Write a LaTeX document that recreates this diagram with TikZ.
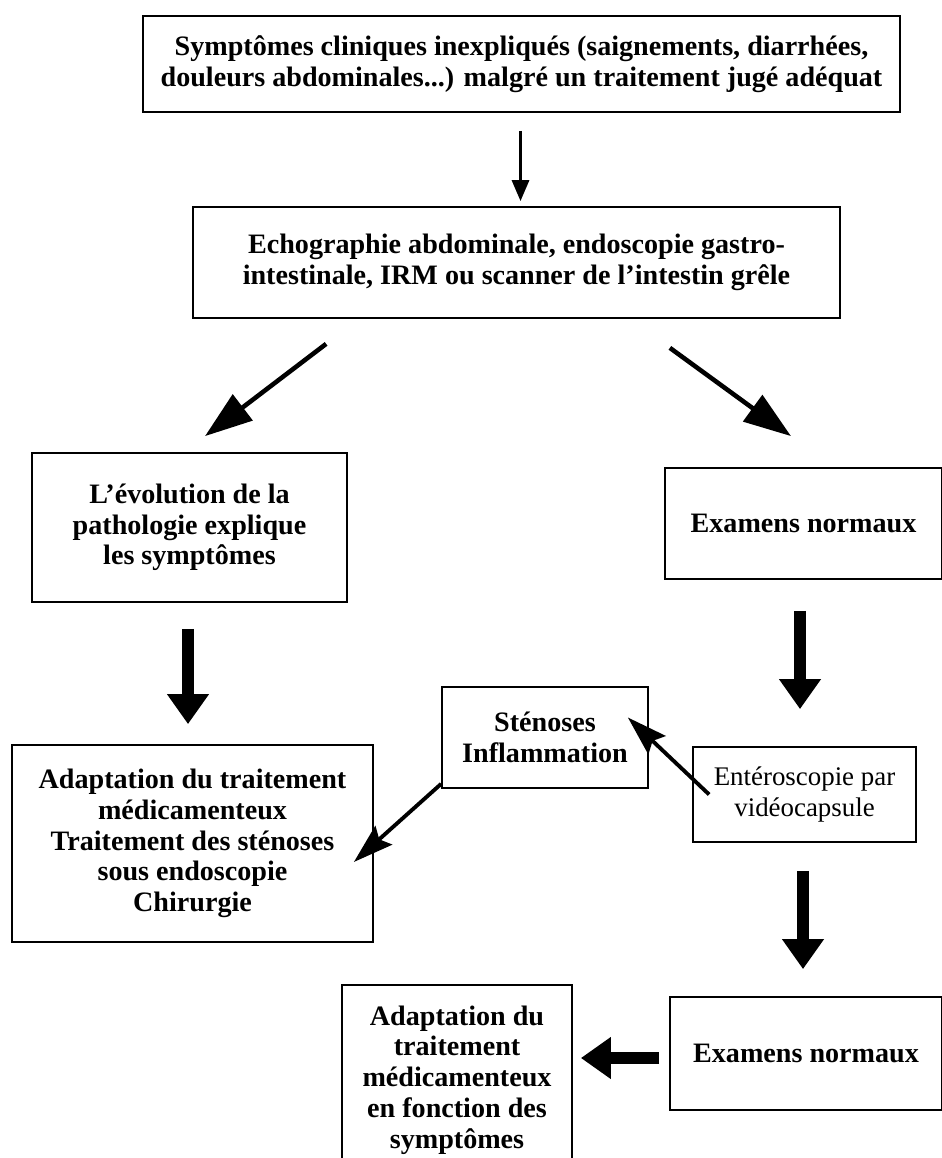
\documentclass[tikz,border=0pt]{standalone}
\usepackage{fontspec}
\setmainfont{Liberation Serif}
\usetikzlibrary{arrows.meta}
\tikzset{
  boite/.style={draw, line width=1pt, align=center, inner sep=2pt,
    font=\bfseries\fontsize{16}{17.5}\selectfont},
  boitefine/.style={boite, font=\fontsize{15.3}{17.5}\selectfont},
  fleche/.style={line width=1.8pt, -{Triangle[length=0.42cm,width=0.34cm]}},
  diagfleche/.style={line width=2.6pt, -{Triangle[length=0.95cm,width=0.64cm]}},
  grossefleche/.style={line width=7pt, -{Triangle[length=0.6cm,width=0.8cm]}},
  finefleche/.style={line width=2.2pt, -{Stealth[length=0.8cm,width=0.5cm,inset=0.12cm]}}
}
\begin{document}
\begin{tikzpicture}
\useasboundingbox (0,0) rectangle (18.82,-23.16);
% boites
\node[boite, minimum width=15.14cm, minimum height=1.92cm] (sympt) at (10.43,-1.28)
  {Symptômes cliniques inexpliqués (saignements, diarrhées,\\douleurs abdominales...) malgré un traitement jugé adéquat};
\node[boite, minimum width=12.94cm, minimum height=2.22cm] (echo) at (10.33,-5.25)
  {Echographie abdominale, endoscopie gastro-\\intestinale, IRM ou scanner de l'intestin grêle};
\node[boite, minimum width=6.30cm, minimum height=2.98cm] (evol) at (3.79,-10.55)
  {L'évolution de la\\pathologie explique\\les symptômes};
\node[boite, minimum width=5.54cm, minimum height=2.22cm] (examA) at (16.07,-10.47)
  {Examens normaux};
\node[boite, minimum width=4.12cm, minimum height=2.02cm] (sten) at (10.90,-14.75)
  {Sténoses\\Inflammation};
\node[boitefine, minimum width=4.46cm, minimum height=1.90cm] (entero) at (16.09,-15.89)
  {Entéroscopie par\\vidéocapsule};
\node[boite, minimum width=7.22cm, minimum height=3.94cm] (adaptA) at (3.85,-16.87)
  {Adaptation du traitement\\médicamenteux\\Traitement des sténoses\\sous endoscopie\\Chirurgie};
\node[boite, minimum width=5.44cm, minimum height=2.26cm] (examB) at (16.12,-21.07)
  {Examens normaux};
\node[boite, minimum width=4.60cm, minimum height=3.80cm] (adaptB) at (9.14,-21.60)
  {Adaptation du\\traitement\\médicamenteux\\en fonction des\\symptômes};
% fleches
\draw[fleche] ([xshift=-0.02cm,yshift=-0.36cm]sympt.south) -- ([xshift=-0.02cm,yshift=0.1cm]sympt.south |- echo.north);
\draw[diagfleche] ([xshift=2.68cm,yshift=-0.5cm]echo.south west) -- ([xshift=0.31cm,yshift=0.32cm]evol.north);
\draw[diagfleche] ([xshift=-3.42cm,yshift=-0.58cm]echo.south east) -- ([xshift=-0.25cm,yshift=0.62cm]examA.north);
\draw[grossefleche] ([xshift=-0.03cm,yshift=-0.52cm]evol.south) -- ([xshift=-0.03cm,yshift=0.4cm]evol.south |- adaptA.north);
\draw[grossefleche] ([xshift=-0.07cm,yshift=-0.62cm]examA.south) -- ([xshift=-0.07cm,yshift=0.74cm]examA.south |- entero.north);
\draw[finefleche] ([xshift=0.34cm]entero.west) -- ([xshift=-0.42cm,yshift=0.4cm]sten.east);
\draw[finefleche] ([yshift=0.1cm]sten.south west) -- ([xshift=-0.4cm,yshift=-0.37cm]adaptA.east);
\draw[grossefleche] ([xshift=-0.03cm,yshift=-0.56cm]entero.south) -- ([xshift=-0.03cm,yshift=0.54cm]entero.south |- examB.north);
\draw[grossefleche] ([xshift=-0.2cm,yshift=-0.09cm]examB.west) -- ([xshift=0.16cm,yshift=-0.09cm]adaptB.east |- examB.west);
\end{tikzpicture}
\end{document}
